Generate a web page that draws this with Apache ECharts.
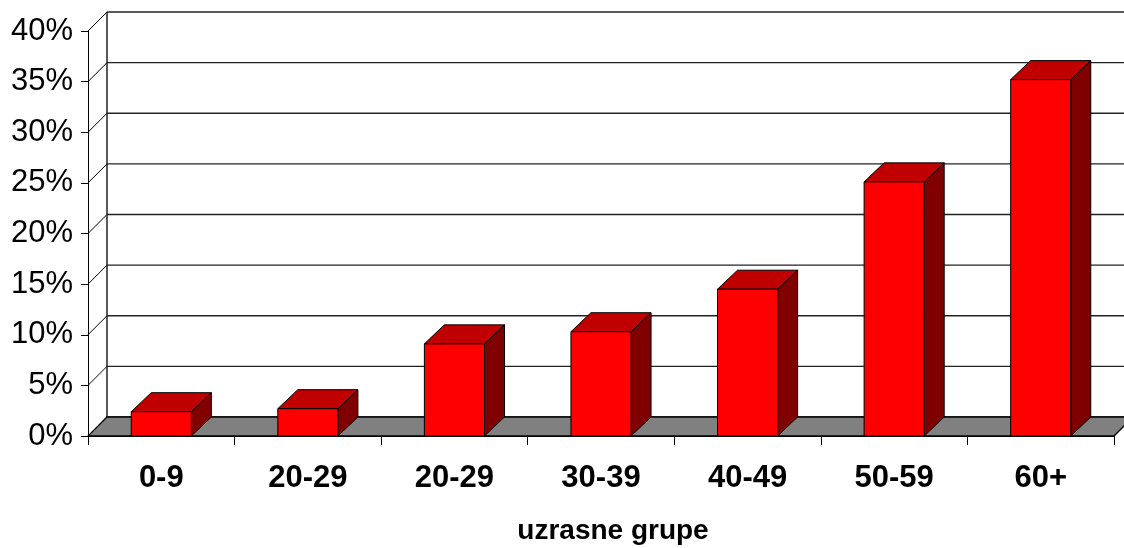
<!DOCTYPE html>
<html>
<head>
<meta charset="utf-8">
<script src="https://cdn.jsdelivr.net/npm/echarts@6/dist/echarts.min.js"></script>
<style>
html,body{margin:0;padding:0;background:#fff;}
#chart{width:1124px;height:548px;}
</style>
</head>
<body>
<div id="chart"></div>
<script>
const categories = ['0-9', '20-29', '20-29', '30-39', '40-49', '50-59', '60+'];
const shares = [2.4, 2.7, 9.1, 10.3, 14.5, 25.1, 35.2];
const gridValues = [0, 5, 10, 15, 20, 25, 30, 35, 40];
const axisTitle = 'uzrasne grupe';

const DX = 19, DY = 19;       // wall depth
const BDX = 20, BDY = 19;     // bar depth
const FONT = '"Liberation Sans Narrow", "Arial Narrow", "Liberation Sans", Arial, sans-serif';

const chart = echarts.init(document.getElementById('chart'), null, {renderer: 'canvas'});

const option = {
  animation: false,
  backgroundColor: '#ffffff',
  grid: {left: 88, right: 10, top: 31, bottom: 112, containLabel: false, outerBoundsMode: 'none'},
  xAxis: {
    type: 'category',
    data: categories,
    axisLine: {show: true, lineStyle: {color: '#000', width: 1}},
    axisTick: {show: true, length: 9, lineStyle: {color: '#000'}},
    axisLabel: {
      margin: 27, color: '#000', fontSize: 31, fontWeight: 'bold', fontFamily: FONT
    },
    name: axisTitle,
    nameLocation: 'middle',
    nameGap: 81,
    nameTextStyle: {
      color: '#000', fontSize: 28, fontWeight: 'bold', fontFamily: FONT,
      padding: [0, 0, 0, 24]
    }
  },
  yAxis: {
    type: 'value',
    min: 0, max: 40, interval: 5,
    axisLine: {show: true, lineStyle: {color: '#000', width: 1}},
    axisTick: {show: true, length: 7, lineStyle: {color: '#000'}},
    splitLine: {show: false},
    axisLabel: {
      formatter: '{value}%', margin: 15, color: '#000', fontSize: 31, fontFamily: FONT
    }
  },
  series: [
    {
      type: 'custom',
      z: 1,
      silent: true,
      data: gridValues.map(function (v) { return [0, v]; }),
      encode: {x: 0, y: 1},
      renderItem: function (params, api) {
        const cs = params.coordSys;
        const y = api.coord([0, api.value(1)])[1];
        const x0 = cs.x, x1 = cs.x + cs.width;
        const children = [
          {type: 'line', shape: {x1: x0, y1: y, x2: x0 + DX, y2: y - DY},
           style: {stroke: '#000', lineWidth: 1}},
          {type: 'line', shape: {x1: x0 + DX, y1: y - DY, x2: x1 + DX, y2: y - DY},
           style: {stroke: '#222', lineWidth: 1.3}}
        ];
        if (params.dataIndex === 0) {
          const yTop = cs.y;
          children.push({type: 'line',
            shape: {x1: x0 + DX, y1: yTop - DY, x2: x0 + DX, y2: y - DY},
            style: {stroke: '#000', lineWidth: 1.3}});
        }
        return {type: 'group', children: children};
      }
    },
    {
      type: 'custom',
      z: 2,
      silent: true,
      data: [[0, 0]],
      encode: {x: 0, y: 1},
      renderItem: function (params, api) {
        const cs = params.coordSys;
        const y = api.coord([0, 0])[1];
        const x0 = cs.x, x1 = cs.x + cs.width;
        return {
          type: 'polygon',
          shape: {points: [[x0, y], [x1, y], [x1 + DX, y - DY], [x0 + DX, y - DY]]},
          style: {fill: '#808080', stroke: '#000', lineWidth: 1.3}
        };
      }
    },
    {
      type: 'custom',
      z: 3,
      data: shares.map(function (v, i) { return [i, v]; }),
      encode: {x: 0, y: 1},
      renderItem: function (params, api) {
        const top = api.coord([api.value(0), api.value(1)]);
        const base = api.coord([api.value(0), 0]);
        const w = api.size([1, 0])[0] * 0.41;
        const xl = top[0] - w / 2, xr = top[0] + w / 2;
        const yt = top[1], yb = base[1];
        const stroke = {stroke: '#000', lineWidth: 1, lineJoin: 'round'};
        return {
          type: 'group',
          children: [
            {type: 'polygon',
             shape: {points: [[xr, yt], [xr + BDX, yt - BDY], [xr + BDX, yb - BDY], [xr, yb]]},
             style: Object.assign({fill: '#800000'}, stroke)},
            {type: 'polygon',
             shape: {points: [[xl, yt], [xr, yt], [xr + BDX, yt - BDY], [xl + BDX, yt - BDY]]},
             style: Object.assign({fill: '#C00000'}, stroke)},
            {type: 'rect',
             shape: {x: xl, y: yt, width: w, height: yb - yt},
             style: Object.assign({fill: '#FF0000'}, stroke)}
          ]
        };
      }
    }
  ]
};
chart.setOption(option);
</script>
</body>
</html>
